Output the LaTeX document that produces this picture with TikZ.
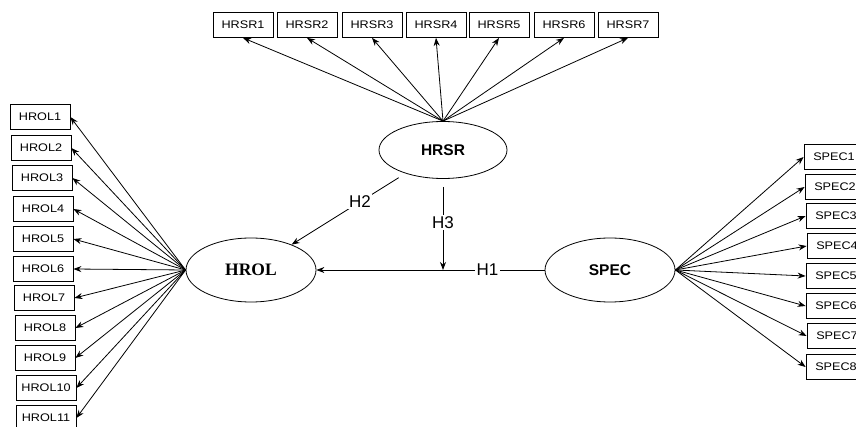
\documentclass[tikz,border=0pt]{standalone}
\usepackage{fontspec}
\setmainfont{Liberation Sans}
\newfontfamily\indfont[FakeStretch=1.15]{Liberation Sans}
\newfontfamily\timesfont{Liberation Serif}
\usetikzlibrary{arrows.meta,shapes.geometric}

\begin{document}
\begin{tikzpicture}[x=1pt, y=-1pt, line width=0.8pt,
    item/.style={draw, minimum width=60pt, minimum height=25pt, inner sep=0pt, font=\indfont\fontsize{11}{13}\selectfont},
    latent/.style={draw, ellipse, minimum width=130pt, minimum height=64pt, inner sep=0pt, font=\fontsize{15.5}{18}\selectfont\bfseries},
    arrow/.style={-{Stealth[length=8pt, width=6pt]}},
    hyp/.style={fill=white, inner sep=1.5pt, font=\fontsize{17}{20}\selectfont}]
    \useasboundingbox (0,0) rectangle (856,427);
    \clip (0,0) rectangle (856,427);
    % latent variables
    \node[latent, minimum width=128pt, minimum height=57pt] (hrsr) at (443,150) {HRSR};
    \node[latent, font=\timesfont\fontsize{17.5}{20}\selectfont\bfseries] (hrol) at (251,270) {HROL};
    \node[latent] (spec) at (610,270) {SPEC};
    % HRSR indicators
    \node[item] (hrsr1) at (243,25) {HRSR1};
    \node[item] (hrsr2) at (307,25) {HRSR2};
    \node[item] (hrsr3) at (372,25) {HRSR3};
    \node[item] (hrsr4) at (436,25) {HRSR4};
    \node[item] (hrsr5) at (499,25) {HRSR5};
    \node[item] (hrsr6) at (564,25) {HRSR6};
    \node[item] (hrsr7) at (628,25) {HRSR7};
    % HROL indicators
    \node[item] (hrol1) at (40,117) {HROL1};
    \node[item] (hrol2) at (41,148) {HROL2};
    \node[item] (hrol3) at (42,178) {HROL3};
    \node[item] (hrol4) at (43,209) {HROL4};
    \node[item] (hrol5) at (43,239) {HROL5};
    \node[item] (hrol6) at (43,269) {HROL6};
    \node[item] (hrol7) at (44,298) {HROL7};
    \node[item] (hrol8) at (45,328) {HROL8};
    \node[item] (hrol9) at (45,358) {HROL9};
    \node[item] (hrol10) at (46,388) {HROL10};
    \node[item] (hrol11) at (46,418) {HROL11};
    % SPEC indicators
    \node[item] (spec1) at (834,157) {SPEC1};
    \node[item] (spec2) at (835,187) {SPEC2};
    \node[item] (spec3) at (836,216) {SPEC3};
    \node[item] (spec4) at (837,246) {SPEC4};
    \node[item] (spec5) at (836,276) {SPEC5};
    \node[item] (spec6) at (836,306) {SPEC6};
    \node[item] (spec7) at (837,336) {SPEC7};
    \node[item] (spec8) at (836,367) {SPEC8};
    % loadings
    \draw[arrow] (hrsr.north) -- (hrsr1.south);
    \draw[arrow] (hrsr.north) -- (hrsr2.south);
    \draw[arrow] (hrsr.north) -- (hrsr3.south);
    \draw[arrow] (hrsr.north) -- (hrsr4.south);
    \draw[arrow] (hrsr.north) -- (hrsr5.south);
    \draw[arrow] (hrsr.north) -- (hrsr6.south);
    \draw[arrow] (hrsr.north) -- (hrsr7.south);
    \draw[arrow] (hrol.west) -- (hrol1.east);
    \draw[arrow] (hrol.west) -- (hrol2.east);
    \draw[arrow] (hrol.west) -- (hrol3.east);
    \draw[arrow] (hrol.west) -- (hrol4.east);
    \draw[arrow] (hrol.west) -- (hrol5.east);
    \draw[arrow] (hrol.west) -- (hrol6.east);
    \draw[arrow] (hrol.west) -- (hrol7.east);
    \draw[arrow] (hrol.west) -- (hrol8.east);
    \draw[arrow] (hrol.west) -- (hrol9.east);
    \draw[arrow] (hrol.west) -- (hrol10.east);
    \draw[arrow] (hrol.west) -- (hrol11.east);
    \draw[arrow] (spec.east) -- (spec1.west);
    \draw[arrow] (spec.east) -- (spec2.west);
    \draw[arrow] (spec.east) -- (spec3.west);
    \draw[arrow] (spec.east) -- (spec4.west);
    \draw[arrow] (spec.east) -- (spec5.west);
    \draw[arrow] (spec.east) -- (spec6.west);
    \draw[arrow] (spec.east) -- (spec7.west);
    \draw[arrow] (spec.east) -- (spec8.west);
    % hypotheses
    \draw[arrow] (spec.west) -- (hrol.east) node[hyp, pos=0.25] {H1};
    \draw[arrow, shorten <=8pt] (hrsr) -- (hrol) node[hyp, pos=0.4] {H2};
    \draw[arrow, shorten <=8pt] (hrsr.south) -- (hrsr.south |- hrol.center) node[hyp, pos=0.48] {H3};
\end{tikzpicture}
\end{document}
